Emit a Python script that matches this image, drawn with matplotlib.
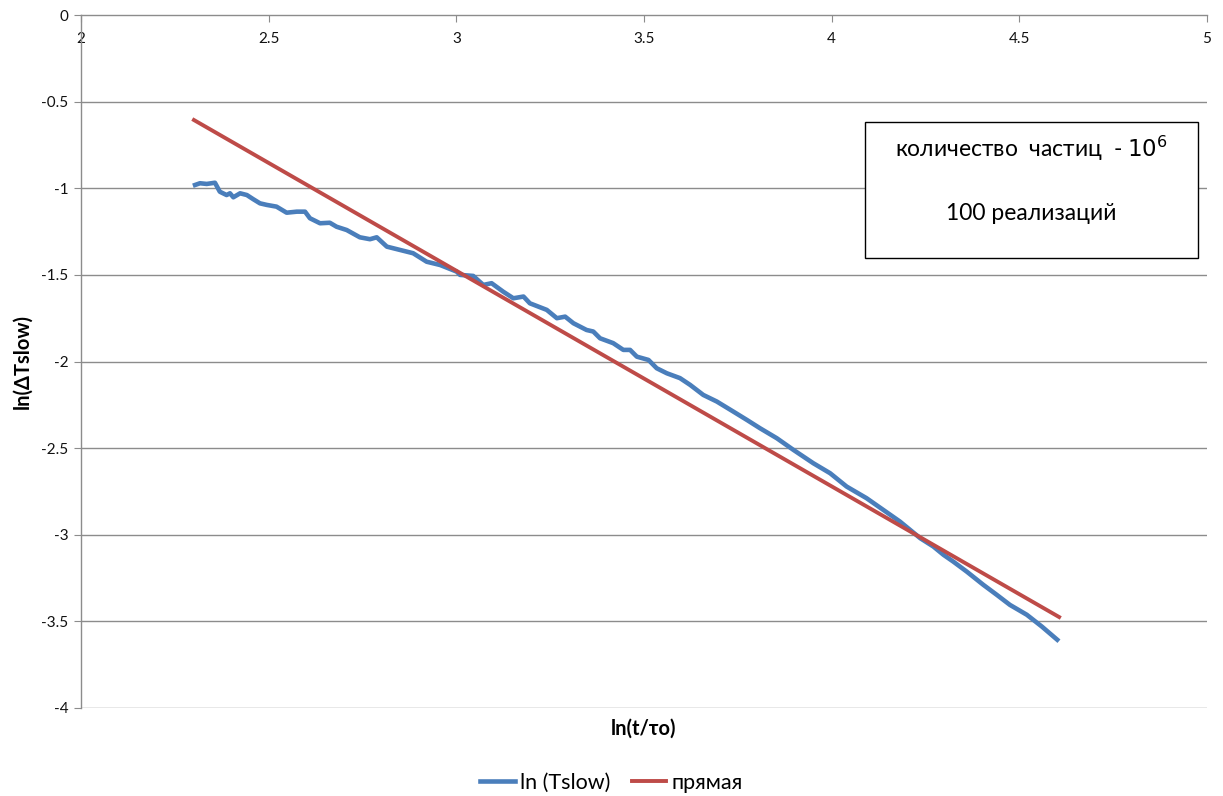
import matplotlib
matplotlib.use("Agg")
import matplotlib.pyplot as plt

plt.rcParams['font.family'] = ['Lato', 'DejaVu Sans']

# ln(Tslow)
x_blue = [2.304, 2.317, 2.335, 2.357, 2.370, 2.388, 2.397, 2.406, 2.424, 2.442,
          2.459, 2.477, 2.495, 2.521, 2.548, 2.575, 2.597, 2.610, 2.637, 2.663,
          2.681, 2.708, 2.743, 2.770, 2.788, 2.815, 2.850, 2.885, 2.921, 2.957,
          3.001, 3.010, 3.045, 3.072, 3.094, 3.125, 3.152, 3.179, 3.196, 3.241,
          3.268, 3.290, 3.312, 3.347, 3.365, 3.383, 3.418, 3.445, 3.463, 3.481,
          3.512, 3.534, 3.561, 3.596, 3.623, 3.658, 3.694, 3.738, 3.774, 3.809,
          3.854, 3.898, 3.951, 3.996, 4.040, 4.093, 4.182, 4.236, 4.271, 4.298,
          4.324, 4.360, 4.404, 4.440, 4.475, 4.520, 4.560, 4.601]
y_blue = [-0.981, -0.971, -0.975, -0.968, -1.020, -1.039, -1.029, -1.052, -1.029, -1.039,
          -1.063, -1.087, -1.096, -1.106, -1.141, -1.135, -1.135, -1.173, -1.202, -1.199,
          -1.222, -1.241, -1.283, -1.294, -1.283, -1.337, -1.356, -1.375, -1.424, -1.443,
          -1.481, -1.500, -1.506, -1.558, -1.548, -1.597, -1.635, -1.625, -1.664, -1.702,
          -1.750, -1.741, -1.779, -1.818, -1.827, -1.866, -1.894, -1.933, -1.933, -1.972,
          -1.991, -2.039, -2.068, -2.096, -2.135, -2.193, -2.231, -2.289, -2.337, -2.385,
          -2.443, -2.510, -2.587, -2.645, -2.722, -2.789, -2.924, -3.020, -3.068, -3.116,
          -3.155, -3.213, -3.289, -3.347, -3.405, -3.462, -3.530, -3.606]

# прямая
x_red = [2.301, 4.606]
y_red = [-0.606, -3.475]

x_ticks = [2, 2.5, 3, 3.5, 4, 4.5, 5]
y_ticks = [0, -0.5, -1, -1.5, -2, -2.5, -3, -3.5, -4]

fig = plt.figure(figsize=(12.23, 7.96), dpi=100)
ax = fig.add_axes([0.0662, 0.1106, 0.9207, 0.8705])

grid_c = '#8c8c8c'
for yv in y_ticks[1:]:
    ax.axhline(yv, color=grid_c, lw=1.0, zorder=0)

l1, = ax.plot(x_blue, y_blue, color='#4A7EBB', lw=3.3, label='ln (Tslow)')
l2, = ax.plot(x_red, y_red, color='#BE4B48', lw=2.8, label='прямая')

ax.set_xlim(2, 5)
ax.set_ylim(-4, 0)
ax.set_xticks(x_ticks)
ax.set_xticklabels([f'{v:g}' for v in x_ticks])
ax.set_yticks(y_ticks)
ax.set_yticklabels([f'{v:g}' for v in y_ticks])

for s in ['right', 'bottom']:
    ax.spines[s].set_visible(False)
for s in ['left', 'top']:
    ax.spines[s].set_color(grid_c)
    ax.spines[s].set_linewidth(1.0)

ax.xaxis.tick_top()
ax.tick_params(axis='x', direction='in', length=5, color=grid_c, pad=-22,
               labelsize=11, labelcolor='#111111')
ax.tick_params(axis='y', direction='out', length=5, color=grid_c, pad=4,
               labelsize=11, labelcolor='#111111')

ax.set_xlabel('ln(t/τo)', fontsize=14.5, fontweight='bold')
ax.xaxis.set_label_position('bottom')
ax.xaxis.set_label_coords(0.5, -0.015)
ax.xaxis.label.set_va('top')
ax.set_ylabel('ln(ΔTslow)', fontsize=14.5, fontweight='bold')
ax.yaxis.set_label_coords(-0.043, 0.5)

# text box
ax.text(0.844, 0.808, 'количество  частиц  - $10^{6}$', transform=ax.transAxes,
        ha='center', va='center', fontsize=16.5, zorder=5)
ax.text(0.844, 0.714, '100 реализаций', transform=ax.transAxes,
        ha='center', va='center', fontsize=16.5, zorder=5)
box = plt.Rectangle((0.696, 0.649), 0.296, 0.1966, transform=ax.transAxes,
                    facecolor='white', edgecolor='black', lw=1.0, zorder=4)
ax.add_patch(box)

fig.legend(handles=[l1, l2], loc='center', bbox_to_anchor=(0.5, 0.0163), ncol=2,
           frameon=False, fontsize=15.5, handlelength=1.6, handletextpad=0.25,
           columnspacing=1.0)

fig.savefig('out.png', dpi=100)
